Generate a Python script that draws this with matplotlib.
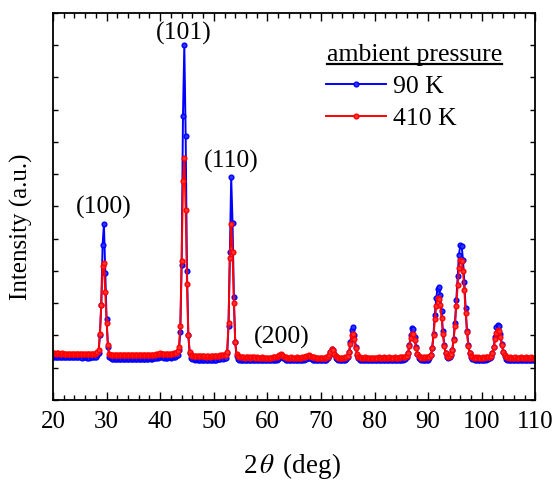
import numpy as np
import matplotlib
matplotlib.use("Agg")
import matplotlib.pyplot as plt
from matplotlib.lines import Line2D

plt.rcParams['font.family'] = ['Liberation Serif', 'DejaVu Serif']
plt.rcParams['mathtext.fontset'] = 'stix'

# 2theta grid of the scan (deg)
two_theta = np.arange(0, 361) * 0.25 + 20.0

# intensity at 90 K (counts), 20 values per 5 deg row
i_90K = [
    1340, 1335, 1330, 1340, 1335, 1330, 1325, 1335, 1330, 1325, 1330, 1325, 1320, 1330, 1325, 1320, 1325, 1330, 1320, 1325,
    1320, 1325, 1315, 1320, 1325, 1315, 1320, 1310, 1320, 1325, 1320, 1330, 1345, 1380, 1450, 2000, 2950, 4800, 5450, 3950,
    2500, 1650, 1330, 1290, 1280, 1285, 1280, 1275, 1280, 1285, 1275, 1280, 1275, 1270, 1280, 1275, 1270, 1275, 1280, 1270,
    1275, 1270, 1280, 1275, 1270, 1275, 1280, 1285, 1280, 1275, 1280, 1285, 1290, 1285, 1280, 1290, 1295, 1300, 1310, 1320,
    1330, 1325, 1320, 1310, 1305, 1310, 1320, 1325, 1315, 1320, 1330, 1340, 1350, 1400, 1550, 2100, 4200, 8800, 11000, 8200,
    4000, 2000, 1450, 1300, 1270, 1260, 1255, 1260, 1250, 1255, 1250, 1245, 1250, 1245, 1240, 1250, 1245, 1240, 1245, 1250,
    1245, 1250, 1255, 1260, 1270, 1280, 1290, 1285, 1295, 1300, 1450, 2300, 4600, 6900, 5500, 3200, 1800, 1350, 1270, 1250,
    1240, 1245, 1240, 1235, 1240, 1245, 1240, 1235, 1240, 1245, 1240, 1235, 1240, 1245, 1240, 1235, 1240, 1245, 1240, 1235,
    1240, 1235, 1240, 1245, 1240, 1245, 1250, 1255, 1270, 1300, 1335, 1330, 1290, 1260, 1245, 1240, 1235, 1240, 1245, 1240,
    1235, 1240, 1245, 1240, 1235, 1240, 1245, 1250, 1260, 1280, 1300, 1305, 1290, 1270, 1255, 1245, 1240, 1235, 1240, 1235,
    1240, 1235, 1240, 1235, 1240, 1300, 1360, 1480, 1570, 1550, 1420, 1310, 1260, 1245, 1240, 1235, 1240, 1245, 1240, 1265,
    1320, 1480, 1800, 2170, 2250, 2000, 1650, 1400, 1290, 1255, 1245, 1240, 1235, 1240, 1245, 1240, 1235, 1240, 1235, 1240,
    1240, 1235, 1240, 1245, 1240, 1235, 1240, 1245, 1240, 1235, 1240, 1245, 1240, 1235, 1240, 1245, 1240, 1235, 1240, 1245,
    1245, 1250, 1260, 1280, 1330, 1450, 1700, 2030, 2240, 2210, 1960, 1650, 1420, 1310, 1260, 1245, 1240, 1245, 1240, 1245,
    1255, 1290, 1380, 1600, 2050, 2650, 3150, 3450, 3490, 3250, 2750, 2150, 1700, 1450, 1340, 1300, 1320, 1400, 1550, 1900,
    2400, 3100, 3850, 4500, 4800, 4780, 4350, 3650, 2850, 2150, 1700, 1450, 1330, 1280, 1260, 1255, 1250, 1255, 1250, 1245,
    1250, 1245, 1250, 1255, 1260, 1270, 1290, 1330, 1450, 1650, 1950, 2250, 2340, 2280, 2050, 1750, 1500, 1350, 1280, 1255,
    1245, 1250, 1245, 1240, 1245, 1250, 1245, 1240, 1245, 1250, 1245, 1240, 1245, 1250, 1245, 1240, 1245, 1250, 1245, 1240,
    1245,
]

# intensity at 410 K (counts)
i_410K = [
    1450, 1445, 1440, 1450, 1445, 1440, 1440, 1445, 1440, 1435, 1440, 1435, 1430, 1440, 1435, 1430, 1435, 1440, 1430, 1435,
    1430, 1435, 1425, 1430, 1435, 1425, 1430, 1425, 1430, 1435, 1430, 1440, 1460, 1490, 1550, 2050, 2950, 4150, 4240, 3350,
    2400, 1700, 1440, 1400, 1395, 1400, 1395, 1390, 1395, 1400, 1390, 1395, 1390, 1385, 1395, 1390, 1385, 1390, 1395, 1385,
    1390, 1385, 1395, 1390, 1385, 1390, 1395, 1400, 1395, 1390, 1395, 1400, 1405, 1400, 1395, 1405, 1410, 1415, 1425, 1440,
    1445, 1440, 1430, 1420, 1415, 1420, 1430, 1440, 1430, 1435, 1445, 1455, 1470, 1510, 1650, 2300, 4300, 6800, 7500, 5900,
    3600, 2000, 1500, 1400, 1375, 1365, 1360, 1365, 1355, 1360, 1355, 1350, 1355, 1350, 1345, 1355, 1350, 1345, 1350, 1355,
    1350, 1355, 1360, 1365, 1375, 1385, 1395, 1390, 1385, 1380, 1500, 2400, 4400, 5470, 4600, 3000, 1800, 1420, 1350, 1330,
    1320, 1325, 1320, 1315, 1320, 1325, 1320, 1315, 1320, 1325, 1320, 1315, 1320, 1315, 1310, 1315, 1320, 1315, 1310, 1315,
    1310, 1315, 1310, 1315, 1320, 1320, 1325, 1335, 1350, 1385, 1420, 1410, 1365, 1335, 1320, 1315, 1310, 1315, 1320, 1315,
    1310, 1315, 1320, 1315, 1310, 1315, 1320, 1325, 1335, 1355, 1375, 1380, 1365, 1345, 1330, 1320, 1315, 1310, 1315, 1310,
    1310, 1315, 1310, 1315, 1320, 1345, 1390, 1500, 1580, 1565, 1440, 1350, 1320, 1315, 1310, 1315, 1310, 1315, 1320, 1340,
    1360, 1490, 1740, 2020, 2060, 1890, 1620, 1420, 1340, 1320, 1315, 1310, 1315, 1320, 1315, 1310, 1315, 1310, 1315, 1310,
    1315, 1310, 1315, 1320, 1315, 1310, 1315, 1320, 1315, 1310, 1315, 1320, 1315, 1310, 1315, 1320, 1315, 1310, 1315, 1320,
    1320, 1320, 1325, 1335, 1360, 1460, 1660, 1920, 2060, 2040, 1850, 1600, 1430, 1350, 1325, 1315, 1320, 1315, 1320, 1325,
    1325, 1340, 1400, 1600, 2000, 2500, 2900, 3150, 3130, 2950, 2550, 2050, 1680, 1450, 1360, 1335, 1350, 1420, 1560, 1850,
    2300, 2900, 3550, 4100, 4330, 4320, 4000, 3400, 2700, 2100, 1680, 1450, 1360, 1330, 1315, 1320, 1315, 1320, 1315, 1310,
    1315, 1320, 1315, 1320, 1320, 1330, 1340, 1360, 1460, 1640, 1880, 2090, 2170, 2130, 1950, 1700, 1500, 1380, 1330, 1320,
    1315, 1320, 1315, 1310, 1315, 1320, 1315, 1310, 1315, 1320, 1315, 1310, 1315, 1320, 1315, 1310, 1315, 1320, 1315, 1310,
    1315,
]

# Miller indices and label centres (2theta, intensity)
hkl_labels = ['(100)', '(101)', '(110)', '(200)']
hkl_pos = [(29.55, 5960), (44.45, 11360), (53.3, 7400), (62.6, 1950)]

fig = plt.figure(figsize=(5.54, 4.8), dpi=100)
ax = fig.add_axes([0.0957, 0.1667, 0.8706, 0.8063])

l90, = ax.plot(two_theta, i_90K, '-o', color='#0000ff', lw=1.4, ms=3.4,
               mec='#0000ff', mfc='#3030ff', label='90 K')
l410, = ax.plot(two_theta, i_410K, '-o', color='#ff0000', lw=1.4, ms=3.4,
                mec='#ff0000', mfc='#ff3030', label='410 K')

for lab, (xx, yy) in zip(hkl_labels, hkl_pos):
    ax.text(xx, yy, lab, fontsize=18.5, ha='center', va='center')

ax.set_xlim(20, 110)
ax.set_ylim(0, 12000)
ax.set_xticks(np.arange(20, 111, 10))
ax.set_xticks(np.arange(20, 111, 2), minor=True)
ax.set_yticks(np.arange(0, 12001, 1000))
ax.set_yticklabels([])
ax.tick_params(which='both', direction='in', top=True, right=True, width=1.0)
ax.tick_params(which='major', axis='x', length=6, labelsize=18, pad=8)
ax.tick_params(which='minor', axis='x', length=3.5)
ax.tick_params(axis='y', length=3.5)
for s in ax.spines.values():
    s.set_linewidth(1.3)

ax.set_xlabel(r'2$\,\theta\,$ (deg)', fontsize=19.5, va='center')
ax.xaxis.set_label_coords(0.496, -0.1705)
ax.set_ylabel('Intensity (a.u.)', fontsize=18, va='center')
ax.yaxis.set_label_coords(-0.0646, 0.447)

ax.legend(handles=[l90, l410], loc='upper left',
          bbox_to_anchor=(326 / 554, 1 - 75 / 480),
          bbox_transform=fig.transFigure, frameon=False,
          fontsize=18.5, numpoints=1, handlelength=2.35,
          handletextpad=0.25, labelspacing=0.34, borderpad=0,
          borderaxespad=0)

title = fig.text(327 / 554, 1 - 61 / 480, 'ambient pressure', fontsize=18.5,
                 ha='left', va='baseline')
fig.canvas.draw()
bb = title.get_window_extent().transformed(fig.transFigure.inverted())
fig.add_artist(Line2D([bb.x0, bb.x1], [1 - 63.5 / 480] * 2, color='black',
                      lw=1.6, transform=fig.transFigure))

fig.savefig('out.png', dpi=100)
